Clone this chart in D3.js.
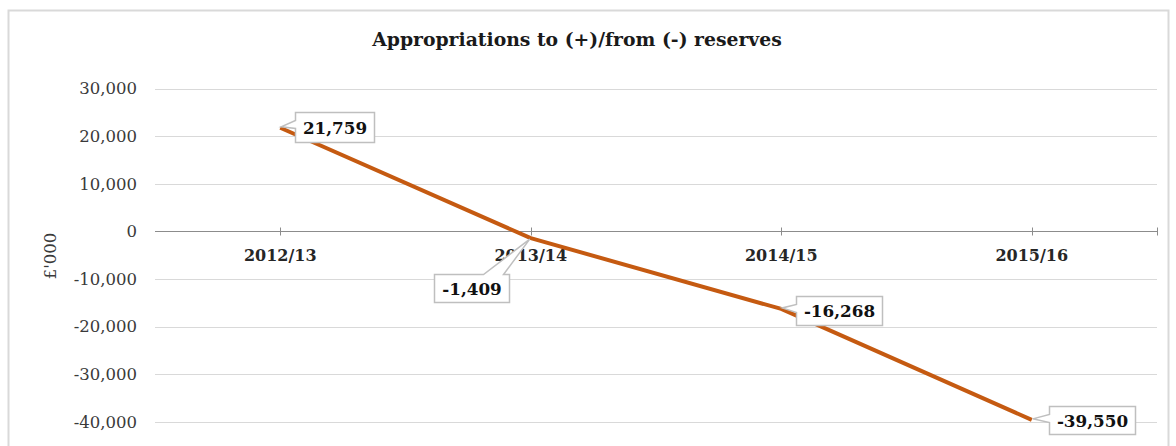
<!DOCTYPE html>
<html>
<head>
<meta charset="utf-8">
<script src="https://cdn.jsdelivr.net/npm/d3@7"></script>
<style>
  html, body { margin: 0; padding: 0; background: #fff; }
  svg { display: block; }
</style>
</head>
<body>
<svg id="chart" width="1176" height="446"></svg>
<script>
// ---- data ----
const categories = ["2012/13", "2013/14", "2014/15", "2015/16"];
const values = [21759, -1409, -16268, -39550];
const yTicks = [30000, 20000, 10000, 0, -10000, -20000, -30000, -40000];
const title = "Appropriations to (+)/from (-) reserves";
const yTitle = "£'000";

// ---- layout ----
const plot = { left: 155, right: 1157, top: 88.5, bottom: 422 };
const svg = d3.select("#chart");
const serif = "'DejaVu Serif', Georgia, serif";

// frame
svg.append("rect")
  .attr("x", 8.5).attr("y", 10.5)
  .attr("width", 1160).attr("height", 460)
  .attr("fill", "#fff").attr("stroke", "#d9d9d9").attr("stroke-width", 2);

const x = d3.scaleBand().domain(categories).range([plot.left, plot.right]).paddingInner(0).paddingOuter(0);
const y = d3.scaleLinear().domain([-40000, 30000]).range([plot.bottom, plot.top]);
const cx = d => x(d) + x.bandwidth() / 2;

// gridlines
svg.append("g").selectAll("line").data(yTicks.filter(t => t !== 0)).join("line")
  .attr("x1", plot.left).attr("x2", plot.right)
  .attr("y1", d => Math.round(y(d)) + 0.5).attr("y2", d => Math.round(y(d)) + 0.5)
  .attr("stroke", "#d9d9d9").attr("stroke-width", 1.2);

// y axis labels
const fmt = d3.format(",");
svg.append("g").selectAll("text").data(yTicks).join("text")
  .attr("x", 137).attr("y", d => y(d))
  .attr("dy", "0.35em")
  .attr("text-anchor", "end")
  .attr("font-family", serif).attr("font-size", 16.5)
  .attr("fill", "#3a3a3a")
  .text(d => d === 0 ? "0" : (d < 0 ? "-" + fmt(-d) : fmt(d)));

// y title
svg.append("text")
  .attr("transform", `translate(56, 256) rotate(-90)`)
  .attr("text-anchor", "middle")
  .attr("font-family", serif).attr("font-size", 16.5)
  .attr("fill", "#3a3a3a")
  .text(yTitle);

// x axis (at zero)
const y0 = Math.round(y(0)) + 0.5;
const xAxis = d3.axisBottom(x).tickSize(0).tickFormat(d => d);
const gx = svg.append("g").attr("transform", `translate(0,${y0})`).call(xAxis);
gx.select(".domain").remove();
gx.selectAll("text")
  .attr("dy", 0).attr("y", 29)
  .attr("font-family", serif).attr("font-size", 16).attr("font-weight", "bold")
  .attr("fill", "#262626");
svg.append("line")
  .attr("x1", plot.left).attr("x2", plot.right)
  .attr("y1", y0).attr("y2", y0)
  .attr("stroke", "#8c8c8c").attr("stroke-width", 1);
const tickXs = categories.map(cx).concat([plot.right]);
svg.append("g").selectAll("line").data(tickXs).join("line")
  .attr("x1", d => Math.round(d) + 0.5).attr("x2", d => Math.round(d) + 0.5)
  .attr("y1", y0 - 4).attr("y2", y0 + 4)
  .attr("stroke", "#8c8c8c").attr("stroke-width", 1);

// title
svg.append("text")
  .attr("x", 577).attr("y", 46)
  .attr("text-anchor", "middle")
  .attr("font-family", serif).attr("font-size", 18.8).attr("font-weight", "bold")
  .attr("fill", "#1a1a1a")
  .text(title);

// line
const line = d3.line().x((d, i) => cx(categories[i])).y(d => y(d));
svg.append("path")
  .datum(values)
  .attr("d", line)
  .attr("fill", "none")
  .attr("stroke", "#c55a11")
  .attr("stroke-width", 4)
  .attr("stroke-linejoin", "round");

// callout labels: offsets relative to the point
const labelOffsets = [
  { dx: 15, dy: -16, side: "left", h: 30 },
  { dx: -97, dy: 36, side: "top", h: 28 },
  { dx: 15, dy: -13, side: "left", h: 29 },
  { dx: 17, dy: -14, side: "left", h: 28 }
];
const gl = svg.append("g");
values.forEach((v, i) => {
  const px = cx(categories[i]), py = y(v);
  const o = labelOffsets[i];
  const txt = v < 0 ? "-" + fmt(-v) : fmt(v);
  const g = gl.append("g");
  const t = g.append("text")
    .attr("font-family", serif).attr("font-size", 16.8).attr("font-weight", "bold")
    .attr("fill", "#111")
    .attr("text-anchor", "middle")
    .text(txt);
  const tw = t.node().getComputedTextLength();
  const bw = Math.round(tw + 15);
  const bx = Math.round(px + o.dx) + 0.5, by = Math.round(py + o.dy) + 0.5;
  const bh = o.h;
  let d;
  if (o.side === "left") {
    const a = by + 8, b = by + 16;
    d = `M${bx},${by} H${bx + bw} V${by + bh} H${bx} V${b} L${px + 1},${py - 1} L${bx},${a} Z`;
  } else {
    const a = bx + bw - 26, b = bx + bw - 6;
    d = `M${bx},${by} H${a} L${px - 1},${py + 1} L${b},${by} H${bx + bw} V${by + bh} H${bx} Z`;
  }
  g.insert("path", "text")
    .attr("d", d)
    .attr("fill", "#fff")
    .attr("stroke", "#bfbfbf").attr("stroke-width", 1.5);
  t.attr("x", bx + bw / 2).attr("y", by + bh / 2).attr("dy", "0.36em");
});
</script>
</body>
</html>
